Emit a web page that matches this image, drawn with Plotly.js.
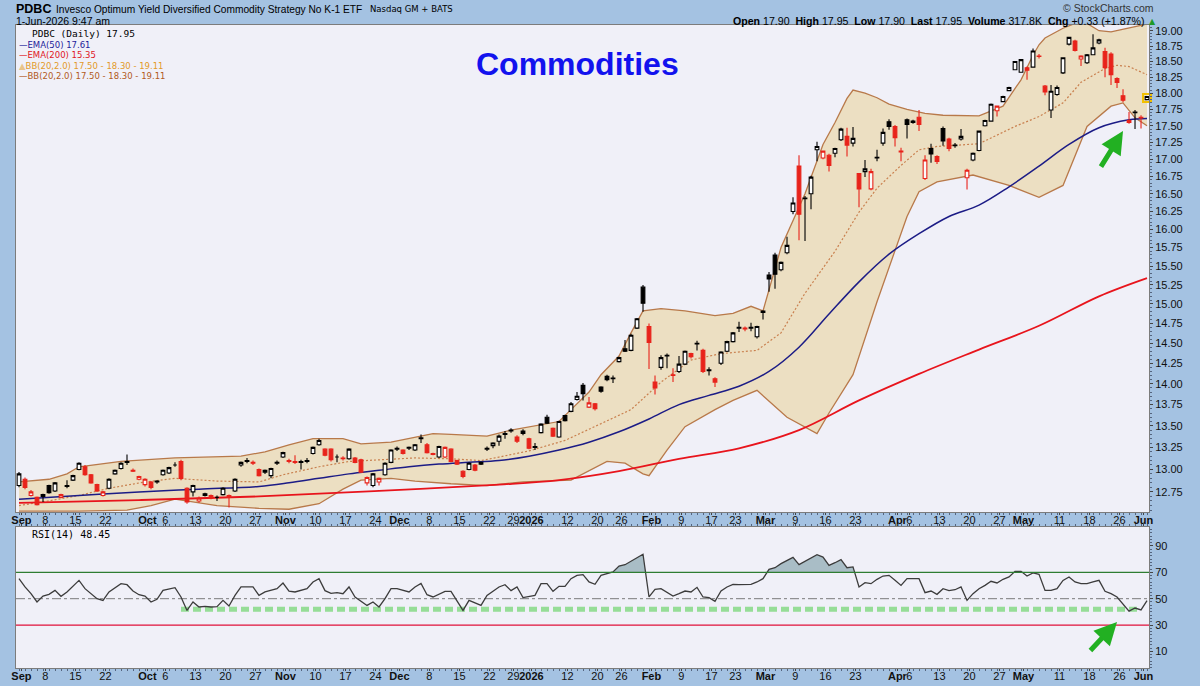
<!DOCTYPE html>
<html><head><meta charset="utf-8">
<script src="https://cdn.plot.ly/plotly-3.0.1.min.js"></script>
<style>html,body{margin:0;padding:0;background:#a4c2e2;}#chart{width:1200px;height:686px;outline:1px solid #5a6e8c;outline-offset:-1px;}</style>
</head><body><div id="chart"></div>
<script>
// ---------- calendar ----------
const holidays = ['2025-09-01','2025-11-27','2025-12-25','2026-01-01','2026-01-19','2026-02-16','2026-04-03','2026-05-25'];
const startDate = '2025-08-29', endDate = '2026-06-01';

// ---------- daily OHLC (PDBC) ----------
const opens = [12.82,12.89,12.71,12.69,12.72,12.82,12.76,12.69,12.81,12.88,
13.00,13.03,12.94,12.83,12.71,12.79,12.95,13.01,13.08,12.99,
12.89,12.83,12.86,12.87,12.94,12.96,13.05,13.09,12.79,12.75,
12.65,12.73,12.71,12.69,12.72,12.71,12.76,13.05,13.09,13.08,
13.00,12.99,12.93,13.07,13.14,13.10,13.09,13.08,13.09,13.18,
13.28,13.23,13.23,13.14,13.13,13.12,13.13,13.11,12.85,12.82,
12.86,12.94,13.08,13.23,13.22,13.24,13.22,13.35,13.28,13.18,
13.14,13.14,13.23,13.10,12.98,13.00,13.05,13.06,13.23,13.27,
13.32,13.40,13.44,13.37,13.44,13.35,13.25,13.42,13.60,13.47,
13.37,13.62,13.67,13.81,13.98,13.72,13.76,13.96,14.09,14.06,
14.27,14.43,14.41,14.69,15.22,14.71,14.02,14.20,14.34,14.11,
14.15,14.24,14.37,14.49,14.41,14.16,14.06,14.25,14.40,14.52,
14.69,14.69,14.69,14.58,14.89,15.38,15.65,15.45,15.68,16.25,
16.90,16.43,16.50,17.14,17.02,17.06,17.09,17.29,17.34,17.24,
16.79,16.82,16.57,17.02,17.24,17.56,17.49,17.12,17.59,17.55,
17.63,16.72,17.16,17.04,17.46,17.30,17.20,17.30,16.73,16.99,
17.13,17.50,17.57,17.73,17.87,18.04,18.37,18.33,18.40,18.41,
18.59,18.11,17.74,17.98,18.32,18.78,18.83,18.54,18.48,18.61,
18.80,18.66,18.62,18.23,17.96,17.55,17.70,17.63,17.90];
const highs = [12.97,12.91,12.77,12.70,12.73,12.83,12.86,12.73,12.88,12.94,
13.08,13.05,12.95,12.84,12.76,12.90,13.00,13.08,13.17,13.01,
12.93,12.90,12.87,12.88,13.00,13.03,13.08,13.11,12.80,12.83,
12.70,12.74,12.72,12.71,12.80,12.72,12.90,13.09,13.13,13.10,
13.01,13.00,13.02,13.10,13.20,13.12,13.16,13.11,13.13,13.26,
13.35,13.24,13.24,13.17,13.15,13.24,13.14,13.12,12.92,12.96,
12.91,13.08,13.23,13.26,13.23,13.26,13.29,13.40,13.30,13.19,
13.27,13.26,13.24,13.11,12.99,13.08,13.06,13.09,13.26,13.31,
13.40,13.44,13.47,13.39,13.46,13.36,13.30,13.53,13.63,13.48,
13.56,13.63,13.78,13.90,14.01,13.84,13.77,13.97,14.11,14.10,
14.33,14.54,14.62,14.82,15.25,14.75,14.10,14.35,14.37,14.19,
14.34,14.41,14.38,14.53,14.43,14.20,14.08,14.40,14.53,14.64,
14.77,14.71,14.76,14.72,14.92,15.42,15.68,15.56,15.90,16.45,
17.06,16.47,16.76,17.26,17.13,17.08,17.17,17.47,17.47,17.48,
16.80,16.99,16.86,17.14,17.46,17.60,17.51,17.17,17.61,17.59,
17.74,17.06,17.23,17.06,17.49,17.32,17.24,17.45,16.86,17.10,
17.43,17.59,17.84,17.81,17.96,18.10,18.51,18.54,18.42,18.71,
18.62,18.13,18.13,18.12,18.57,18.90,18.85,18.60,18.62,18.94,
18.87,18.72,18.65,18.25,18.06,17.71,17.74,17.66,17.95];
const lows = [12.80,12.78,12.70,12.60,12.64,12.73,12.75,12.68,12.79,12.87,
12.99,12.93,12.84,12.75,12.70,12.78,12.94,13.00,13.05,12.97,
12.88,12.81,12.78,12.84,12.93,12.95,13.03,12.88,12.62,12.70,
12.63,12.70,12.67,12.65,12.71,12.58,12.75,13.03,13.07,13.05,
12.92,12.95,12.90,13.05,13.13,13.07,13.06,13.00,13.07,13.17,
13.27,13.15,13.09,13.08,13.10,13.11,13.07,12.96,12.82,12.80,
12.82,12.93,13.07,13.21,13.17,13.22,13.21,13.30,13.18,13.16,
13.13,13.13,13.08,13.05,12.90,12.99,12.98,13.05,13.21,13.24,
13.27,13.35,13.42,13.30,13.39,13.23,13.22,13.41,13.52,13.37,
13.36,13.55,13.66,13.80,13.80,13.71,13.68,13.89,14.03,14.01,
14.26,14.39,14.40,14.68,14.90,14.18,13.87,14.17,14.19,14.02,
14.13,14.23,14.31,14.41,14.13,14.10,13.96,14.23,14.39,14.51,
14.64,14.65,14.65,14.56,14.80,15.16,15.20,15.43,15.66,16.21,
15.85,15.84,16.28,16.97,17.00,16.82,17.03,17.27,17.04,17.19,
16.31,16.74,16.55,16.97,17.20,17.44,17.19,16.97,17.31,17.53,
17.42,16.70,16.95,16.93,17.20,17.12,17.17,17.28,16.56,16.97,
17.12,17.49,17.56,17.64,17.86,18.03,18.36,18.32,18.21,18.40,
18.55,17.97,17.62,17.96,18.30,18.76,18.66,18.43,18.46,18.60,
18.78,18.25,18.13,18.08,17.86,17.53,17.45,17.46,17.90];
const closes = [12.95,12.80,12.75,12.61,12.70,12.74,12.85,12.72,12.82,12.93,
13.07,12.94,12.85,12.76,12.75,12.89,12.99,13.07,13.09,12.98,
12.92,12.89,12.80,12.86,12.99,13.02,13.05,12.90,12.64,12.82,
12.68,12.71,12.68,12.69,12.79,12.69,12.89,13.08,13.10,13.07,
12.93,12.97,13.01,13.08,13.19,13.09,13.08,13.09,13.10,13.25,
13.33,13.16,13.11,13.14,13.12,13.23,13.08,12.97,12.91,12.95,
12.90,13.07,13.22,13.24,13.18,13.25,13.28,13.36,13.19,13.17,
13.26,13.25,13.09,13.06,12.92,13.07,12.99,13.08,13.24,13.30,
13.38,13.41,13.45,13.32,13.41,13.24,13.26,13.52,13.53,13.38,
13.55,13.56,13.76,13.85,13.88,13.77,13.70,13.91,14.05,14.07,
14.32,14.40,14.60,14.81,15.01,14.51,13.95,14.32,14.35,14.10,
14.24,14.40,14.33,14.50,14.15,14.17,14.02,14.39,14.52,14.63,
14.70,14.68,14.70,14.71,14.91,15.33,15.39,15.55,15.78,16.37,
16.21,16.44,16.74,17.19,17.12,16.91,17.16,17.45,17.21,17.31,
16.57,16.86,16.82,17.03,17.40,17.49,17.32,17.11,17.52,17.57,
17.52,16.99,17.08,16.97,17.27,17.16,17.21,17.34,16.84,17.09,
17.42,17.58,17.83,17.80,17.95,18.09,18.50,18.53,18.36,18.67,
18.58,18.02,18.03,18.09,18.56,18.89,18.68,18.59,18.61,18.72,
18.85,18.40,18.29,18.17,17.89,17.58,17.71,17.62,17.95];

// ---------- overlays (sampled by trading-day index) ----------
const ema50Idx = [0,10,20,30,40,45,50,55,60,65,70,75,80,85,90,95,100,105,110,115,120,125,130,135,140,145,150,155,160,165,170,175,180,185,188];
const ema50Val = [12.67,12.71,12.75,12.78,12.81,12.85,12.90,12.95,12.99,13.03,13.06,13.08,13.10,13.15,13.22,13.31,13.43,13.58,13.75,13.86,13.97,14.15,14.45,14.87,15.29,15.66,15.94,16.18,16.34,16.60,16.90,17.22,17.47,17.59,17.61];
const ema200Idx = [0,20,40,60,80,90,100,110,120,130,140,150,160,170,180,188];
const ema200Val = [12.63,12.66,12.70,12.76,12.83,12.88,12.98,13.12,13.24,13.45,13.80,14.12,14.42,14.72,15.10,15.34];
const bbUpIdx = [0,5,8,10,17,21,26,37,41,45,49,54,57,62,66,69,72,78,82,85,90,92,95,97,100,102,104,107,111,116,119,122,124,127,131,134,136,138,139,141,143,145,148,151,154,160,164,167,169,170,171,174,176,178,180,182,185,188];
const bbUpVal = [12.86,12.89,12.95,13.03,13.09,13.11,13.13,13.15,13.20,13.28,13.35,13.35,13.29,13.31,13.37,13.41,13.40,13.38,13.45,13.49,13.55,13.69,13.90,14.11,14.34,14.63,14.91,14.94,14.91,14.85,14.88,14.97,14.91,15.75,16.50,17.22,17.55,17.92,18.05,18.00,17.93,17.83,17.75,17.69,17.66,17.65,17.80,18.21,18.60,18.77,18.88,19.04,19.12,19.12,19.00,18.98,19.05,19.11];
const bbLowIdx = [0,10,18,22,26,29,33,40,45,50,54,57,62,66,72,78,84,92,98,101,104,105,108,111,116,119,123,128,133,135,139,143,146,148,150,153,159,165,170,174,178,182,184,186,188];
const bbLowVal = [12.54,12.54,12.55,12.60,12.67,12.64,12.60,12.57,12.56,12.62,12.78,12.88,12.90,12.87,12.84,12.82,12.86,12.88,13.09,13.07,12.95,12.93,13.22,13.49,13.69,13.80,13.92,13.60,13.41,13.65,14.11,15.03,15.70,16.18,16.53,16.67,16.77,16.62,16.45,16.62,17.49,17.80,17.85,17.62,17.50];
const bbMidIdx = [0,4,10,15,21,26,33,40,44,50,55,61,66,72,77,80,85,91,96,102,107,112,117,123,127,131,136,140,143,147,150,153,160,166,170,174,177,181,183,185,188];
const bbMidVal = [12.60,12.64,12.71,12.79,12.86,12.90,12.87,12.86,12.94,13.03,13.09,13.11,13.13,13.12,13.10,13.14,13.21,13.33,13.49,13.69,14.02,14.29,14.37,14.41,14.63,15.14,15.70,16.24,16.58,16.91,17.14,17.19,17.23,17.49,17.64,17.85,18.17,18.39,18.44,18.42,18.29];

// ---------- RSI(14) ----------
const rsiIdx = [0,1,2,3,4,5,6,7,8,10,11,13,14,15,17,18,19,20,21,22,23,24,26,27,28,29,30,31,32,33,34,35,36,37,39,40,41,43,44,45,46,48,49,50,51,52,53,54,55,56,58,59,60,61,62,63,65,66,67,68,69,71,72,73,74,75,77,78,80,81,82,83,84,86,87,88,89,90,91,92,93,94,95,96,97,99,100,101,102,103,104,105,106,107,109,110,111,112,113,114,115,116,117,118,119,120,122,123,124,125,126,127,129,130,131,132,133,134,135,136,137,138,139,140,141,142,143,144,145,146,147,148,149,150,151,152,153,154,155,156,157,158,159,160,161,162,163,164,165,166,167,168,169,170,171,172,173,174,175,176,177,178,179,180,181,182,183,184,185,186,187,188];
const rsiVal = [65.2,58.9,53.8,47.5,52.0,53.3,56.3,51.8,55.1,63.9,57.6,50.0,48.7,55.1,61.4,60.6,55.8,53.0,52.0,47.5,49.5,56.3,58.4,51.3,41.1,47.5,43.7,44.2,43.7,43.9,48.7,44.4,52.5,58.9,58.9,52.5,55.1,57.6,61.9,55.8,55.1,57.6,62.7,65.2,56.1,54.1,54.6,53.8,58.9,51.3,44.9,47.5,43.7,50.0,57.6,57.6,55.1,58.9,61.6,53.0,51.3,55.6,55.6,48.7,41.1,48.7,44.9,52.5,58.9,60.6,56.1,58.9,50.8,52.5,61.4,61.4,55.6,59.4,59.4,65.2,67.7,68.2,62.7,60.9,67.7,70.3,74.8,75.8,78.4,80.9,83.7,51.3,57.1,57.6,52.0,53.8,55.8,55.1,58.6,51.3,50.8,48.0,55.8,58.9,60.9,60.6,60.9,62.7,65.2,72.3,73.5,76.6,81.4,75.8,78.4,81.1,83.4,81.6,75.3,77.3,79.6,73.5,74.1,58.9,62.2,61.4,64.7,67.2,67.7,63.9,60.1,65.2,65.2,65.2,54.6,55.8,53.3,57.6,56.1,56.8,58.9,48.7,53.8,57.6,60.1,63.2,61.9,64.7,66.5,70.8,70.8,67.2,69.5,68.5,56.3,56.3,57.6,63.9,66.5,62.7,61.4,61.4,62.7,63.9,55.6,53.8,51.3,46.2,40.6,42.9,41.5,48.45];
const rsiSupport = 42;

// ---------- axis labels ----------
const tickDates = ['2025-09-02','2025-09-08','2025-09-15','2025-09-22','2025-10-01','2025-10-06','2025-10-13','2025-10-20','2025-10-27','2025-11-03','2025-11-10','2025-11-17','2025-11-24','2025-12-01','2025-12-08','2025-12-15','2025-12-22','2025-12-29','2026-01-02','2026-01-12','2026-01-20','2026-01-26','2026-02-02','2026-02-09','2026-02-17','2026-02-23','2026-03-02','2026-03-09','2026-03-16','2026-03-23','2026-04-01','2026-04-06','2026-04-13','2026-04-20','2026-04-27','2026-05-01','2026-05-11','2026-05-18','2026-05-26','2026-06-01'];
const tickText = ['Sep','8','15','22','Oct','6','13','20','27','Nov','10','17','24','Dec','8','15','22','29','2026','12','20','26','Feb','9','17','23','Mar','9','16','23','Apr','6','13','20','27','May','11','18','26','Jun'];
const priceTicks = [12.75,13.00,13.25,13.50,13.75,14.00,14.25,14.50,14.75,15.00,15.25,15.50,15.75,16.00,16.25,16.50,16.75,17.00,17.25,17.50,17.75,18.00,18.25,18.50,18.75,19.00];
const rsiTicks = [10,30,50,70,90];

// ---------- build ----------
function tradingDays(s, e){
  const out=[]; let d=new Date(s+'T00:00:00Z'); const end=new Date(e+'T00:00:00Z');
  while(d<=end){ const wd=d.getUTCDay(); const k=d.toISOString().slice(0,10);
    if(wd!==0 && wd!==6 && !holidays.includes(k)) out.push(k);
    d.setUTCDate(d.getUTCDate()+1); }
  return out;
}
const days = tradingDays(startDate, endDate);
const n = Math.min(days.length, closes.length);

const up={x:[],open:[],high:[],low:[],close:[]}, dn={x:[],open:[],high:[],low:[],close:[]};
for(let i=0;i<n;i++){
  const t = (i===0 || closes[i]>=closes[i-1]) ? up : dn;
  t.x.push(i); t.open.push(opens[i]); t.high.push(highs[i]); t.low.push(lows[i]); t.close.push(closes[i]);
}
const last = n-1;

// RSI overbought fill
const fx=[], fy=[];
for(let k=0;k<rsiIdx.length;k++){
  const x=rsiIdx[k], v=rsiVal[k];
  if(k>0){ const x0=rsiIdx[k-1], v0=rsiVal[k-1];
    if((v0-70)*(v-70)<0){ const t=(70-v0)/(v-v0); fx.push(x0+t*(x-x0)); fy.push(70); } }
  fx.push(x); fy.push(Math.max(v,70));
}

const tickPos = tickDates.map(d => days.indexOf(d) - 0.6);
const tickLab = tickText.map(t => (isNaN(+t) || t.length===4) ? '<b>'+t+'</b>' : t);
const priceMinor = []; for(let v=12.55; v<19.1; v+=0.05) priceMinor.push(+v.toFixed(2));

const traces = [
  {x:bbLowIdx, y:bbLowVal, mode:'lines', line:{color:'#b8794a', width:1.3}, xaxis:'x', yaxis:'y', hoverinfo:'skip'},
  {x:bbUpIdx, y:bbUpVal, mode:'lines', fill:'tonexty', fillcolor:'#ecdfc2', line:{color:'#b8794a', width:1.3}, xaxis:'x', yaxis:'y', hoverinfo:'skip'},
  {x:bbMidIdx, y:bbMidVal, mode:'lines', line:{color:'#c9804f', width:1.2, dash:'2px,2px'}, xaxis:'x', yaxis:'y', hoverinfo:'skip'},
  {x:ema200Idx, y:ema200Val, mode:'lines', line:{color:'#e8141c', width:1.8, shape:'spline'}, xaxis:'x', yaxis:'y', hoverinfo:'skip'},
  {x:ema50Idx, y:ema50Val, mode:'lines', line:{color:'#1c1c86', width:1.5, shape:'spline'}, xaxis:'x', yaxis:'y', hoverinfo:'skip'},
  Object.assign({type:'candlestick', xaxis:'x', yaxis:'y3', whiskerwidth:0, hoverinfo:'skip',
    increasing:{line:{color:'#000000', width:1.1}, fillcolor:'#fbfbfb'},
    decreasing:{line:{color:'#000000', width:1.1}, fillcolor:'#000000'}}, up),
  Object.assign({type:'candlestick', xaxis:'x', yaxis:'y3', whiskerwidth:0, hoverinfo:'skip',
    increasing:{line:{color:'#e8231b', width:1.1}, fillcolor:'#fbfbfb'},
    decreasing:{line:{color:'#e8231b', width:1.1}, fillcolor:'#e8231b'}}, dn),
  {x:[last], y:[(opens[last]+closes[last])/2], mode:'markers', cliponaxis:false, marker:{symbol:'square', size:8, color:'rgba(0,0,0,0)', line:{color:'#f2c000', width:2}}, xaxis:'x', yaxis:'y3', hoverinfo:'skip'},
  // RSI
  {x:[0,n-1], y:[70,70], mode:'lines', line:{width:0, color:'rgba(0,0,0,0)'}, xaxis:'x2', yaxis:'y2', hoverinfo:'skip'},
  {x:fx, y:fy, mode:'lines', fill:'tonexty', fillcolor:'#a9bdc6', line:{width:0, color:'rgba(0,0,0,0)'}, xaxis:'x2', yaxis:'y2', hoverinfo:'skip'},
  {x:rsiIdx, y:rsiVal, mode:'lines', line:{color:'#3c3c3c', width:1.3}, xaxis:'x2', yaxis:'y2', hoverinfo:'skip'}
];

const L=16, R=1149, T=25, B=668, W=R-L, H=B-T;
const PX = x => (x-L)/W, PY = y => (B-y)/H;
function A(text, x, y, o){
  return Object.assign({text, xref:'paper', yref:'paper', x:PX(x), y:PY(y), xanchor:'left', yanchor:'middle', showarrow:false,
    font:{family:'Liberation Sans, Arial, sans-serif', size:10.2, color:'#000'}}, o||{});
}
const legF = (c)=>({family:'DejaVu Sans, Verdana, sans-serif', size:8.5, color:c});
const annotations = [
  A('<b>PDBC</b>', 14, 9, {font:{family:'Liberation Sans, Arial', size:12.5, color:'#000'}}),
  A('Invesco Optimum Yield Diversified Commodity Strategy No K-1 ETF', 54, 9),
  A('Nasdaq GM + BATS', 368, 9, {font:{family:'DejaVu Sans, Verdana', size:8.5, color:'#000'}}),
  A('1-Jun-2026 9:47 am', 14, 21, {font:{family:'Liberation Sans, Arial', size:10.5, color:'#000'}}),
  A('© StockCharts.com', 1156, 8, {xanchor:'right', font:{family:'Liberation Sans, Arial', size:10.5, color:'#333'}}),
  A('<b>Open</b> 17.90  <b>High</b> 17.95  <b>Low</b> 17.90  <b>Last</b> 17.95  <b>Volume</b> 317.8K  <b>Chg</b> +0.33 (+1.87%)', 1146, 21, {xanchor:'right', font:{family:'Liberation Sans, Arial', size:10.6, color:'#000'}}),
  A('▲', 1147, 21, {font:{family:'DejaVu Sans', size:8, color:'#1f9a2a'}}),
  A('<b>Commodities</b>', 577, 64, {xanchor:'center', font:{family:'Liberation Sans, Arial', size:32, color:'#1212ee'}}),
  A('PDBC (Daily) 17.95', 30, 34, {font:{family:'DejaVu Sans Mono, monospace', size:9.5, color:'#000'}}),
  A('—EMA(50) 17.61', 17, 45, {font:legF('#1c1c9a')}),
  A('—EMA(200) 15.35', 17, 55, {font:legF('#e0161e')}),
  A('<span style="color:#e8c48a">▲</span>BB(20,2.0) 17.50 - 18.30 - 19.11', 17, 66, {font:legF('#e39a28')}),
  A('—BB(20,2.0) 17.50 - 18.30 - 19.11', 17, 76, {font:legF('#b25a1c')}),
  A('RSI(14) 48.45', 30, 534, {font:{family:'DejaVu Sans Mono, monospace', size:10, color:'#000'}}),
  {xref:'x', yref:'y', x:184, y:Math.log10(17.42), ax:-23, ay:37, showarrow:true, arrowhead:2, arrowsize:0.9, arrowwidth:5, arrowcolor:'#22b022', text:''},
  {xref:'x2', yref:'y2', x:183, y:32.3, ax:-28, ay:30, showarrow:true, arrowhead:2, arrowsize:0.9, arrowwidth:5, arrowcolor:'#22b022', text:''}
];

const shapes = [
  {type:'line', xref:'x2', yref:'y2', x0:27, x1:187, y0:rsiSupport, y1:rsiSupport, layer:'below', line:{color:'rgba(140,218,140,0.9)', width:5, dash:'8px,4px'}},
  {type:'line', xref:'paper', yref:'y2', x0:0, x1:1, y0:50, y1:50, layer:'below', line:{color:'#7a7a7a', width:1, dash:'dashdot'}},
  {type:'line', xref:'paper', yref:'y2', x0:0, x1:1, y0:70, y1:70, line:{color:'#2e7d32', width:1.2}},
  {type:'line', xref:'paper', yref:'y2', x0:0, x1:1, y0:30, y1:30, line:{color:'#e0103a', width:1.2}}
];

const xCommon = {range:[-0.5, 188.33], tickmode:'array', tickvals:tickPos, ticktext:tickLab, tickangle:0, ticks:'outside', ticklen:2, tickcolor:'#444',
  ticklabelstandoff:-4,
  tickfont:{family:'Liberation Sans, Arial', size:11, color:'#111'}, showline:true, linecolor:'#7c7c7c', showgrid:false, zeroline:false,
  minor:{tickmode:'linear', tick0:0, dtick:1, ticks:'outside', ticklen:2, tickcolor:'#55657f'}, fixedrange:true};
const yCommon = {side:'right', ticks:'outside', ticklen:3, tickcolor:'#444', showline:true, mirror:true, linecolor:'#7c7c7c', showgrid:false, zeroline:false,
  tickfont:{family:'Liberation Sans, Arial', size:11, color:'#111'}, tickmode:'array', fixedrange:true};
const priceRange = [Math.log10(12.53), Math.log10(19.094)];
const priceDomain = [(B-512)/H, 1];

const layout = {
  width:1200, height:686, paper_bgcolor:'#a4c2e2', plot_bgcolor:'#f0f0f8', showlegend:false,
  margin:{l:L, r:1200-R, t:T, b:686-B}, hovermode:false, boxgap:0.12,
  xaxis: Object.assign({}, xCommon, {anchor:'y', domain:[0,1], mirror:true, rangeslider:{visible:false}}),
  xaxis2: Object.assign({}, xCommon, {anchor:'y2', domain:[0,1], matches:'x', mirror:'allticks'}),
  yaxis: Object.assign({}, yCommon, {type:'log', domain:priceDomain, range:priceRange, anchor:'x',
    tickvals:priceTicks, ticktext:priceTicks.map(v=>v.toFixed(2)),
    minor:{tickmode:'array', tickvals:priceMinor, ticks:'outside', ticklen:2, tickcolor:'#55657f'}}),
  yaxis3: {type:'log', domain:priceDomain, range:priceRange, overlaying:'y', anchor:'x', side:'right', visible:false, showgrid:false, zeroline:false, fixedrange:true},
  yaxis2: Object.assign({}, yCommon, {domain:[0, (B-527)/H], range:[-2.6, 104.4], anchor:'x2', tickvals:rsiTicks, ticktext:rsiTicks.map(String),
    minor:{tickmode:'linear', tick0:0, dtick:2.5, ticks:'outside', ticklen:2, tickcolor:'#55657f'}}),
  annotations, shapes
};
Plotly.newPlot('chart', traces, layout, {staticPlot:true, displayModeBar:false});
</script></body></html>
